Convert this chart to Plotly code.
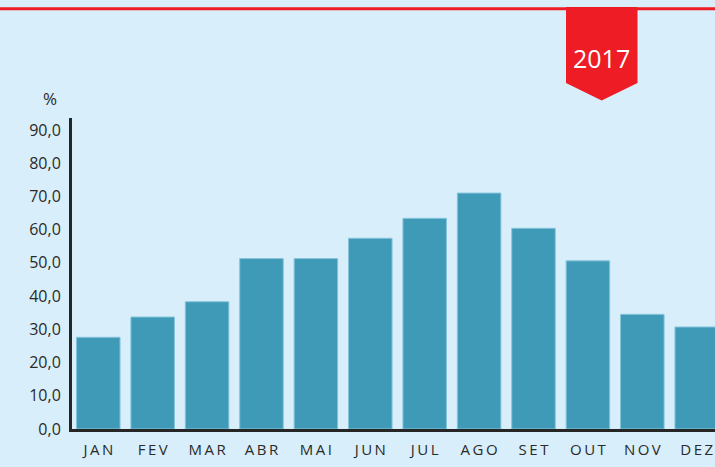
import plotly.graph_objects as go

months = ["JAN", "FEV", "MAR", "ABR", "MAI", "JUN", "JUL", "AGO", "SET", "OUT", "NOV", "DEZ"]
values = [27.6, 33.7, 38.3, 51.3, 51.3, 57.4, 63.4, 71.0, 60.4, 50.6, 34.5, 30.7]
year_label = "2017"
unit_label = "%"
ytick_vals = [0, 10, 20, 30, 40, 50, 60, 70, 80, 90]

W, H = 715, 467
L, R, T, B = 72, 0, 118, 38
PW, PH = W - L - R, H - T - B

def px(x):
    return (x - L) / PW

def py(y):
    return (H - B - y) / PH

spaced = ["\u2009".join(m) for m in months]

fig = go.Figure()
fig.add_trace(go.Bar(
    x=list(range(len(months))), y=values,
    marker=dict(color="#3f9ab8", line=dict(color="#86c4da", width=1)),
    width=0.8, hoverinfo="skip",
))

ribbon = [(566, 7), (637.5, 7), (637.5, 83), (601.7, 100.5), (566, 83)]
path = "M " + " L ".join(f"{px(a):.5f},{py(b):.5f}" for a, b in ribbon) + " Z"

fig.update_layout(
    width=W, height=H,
    margin=dict(l=L, r=R, t=T, b=B, pad=0),
    paper_bgcolor="#d8eefa", plot_bgcolor="rgba(0,0,0,0)",
    showlegend=False,
    separators=",.",
    font=dict(family="Open Sans, sans-serif", color="#2a2a2a"),
    xaxis=dict(
        range=[-0.483, 11.336], tickmode="array",
        tickvals=list(range(len(months))), ticktext=spaced,
        showgrid=False, zeroline=False, showline=True, linecolor="#252525", linewidth=3,
        ticks="", tickfont=dict(size=15, color="#2a2a2a"), ticklabelstandoff=5,
    ),
    yaxis=dict(
        range=[0, 93.6], tickmode="array", tickvals=ytick_vals, tickformat=".1f",
        showgrid=False, zeroline=False, showline=True, linecolor="#252525", linewidth=3,
        ticks="", tickfont=dict(size=16, color="#2a2a2a"), ticklabelstandoff=5,
    ),
    shapes=[
        dict(type="path", xref="paper", yref="paper", path=path,
             fillcolor="#ee1c25", line=dict(width=0), layer="above"),
        dict(type="line", xref="paper", yref="paper", x0=px(0), x1=px(W),
             y0=py(8.7), y1=py(8.7), line=dict(color="#ee1c25", width=3), layer="above"),
    ],
    annotations=[
        dict(text=year_label, xref="paper", yref="paper", x=px(601.7), y=py(58),
             showarrow=False, xanchor="center", yanchor="middle",
             font=dict(size=25, color="#ffffff")),
        dict(text=unit_label, xref="paper", yref="paper", x=px(50), y=py(99),
             showarrow=False, xanchor="center", yanchor="middle",
             font=dict(size=17, color="#2a2a2a")),
    ],
)

fig.write_html(
    "out.html",
    config={"displayModeBar": False},
    post_script="document.body.style.margin='0';document.body.style.overflow='hidden';",
)
